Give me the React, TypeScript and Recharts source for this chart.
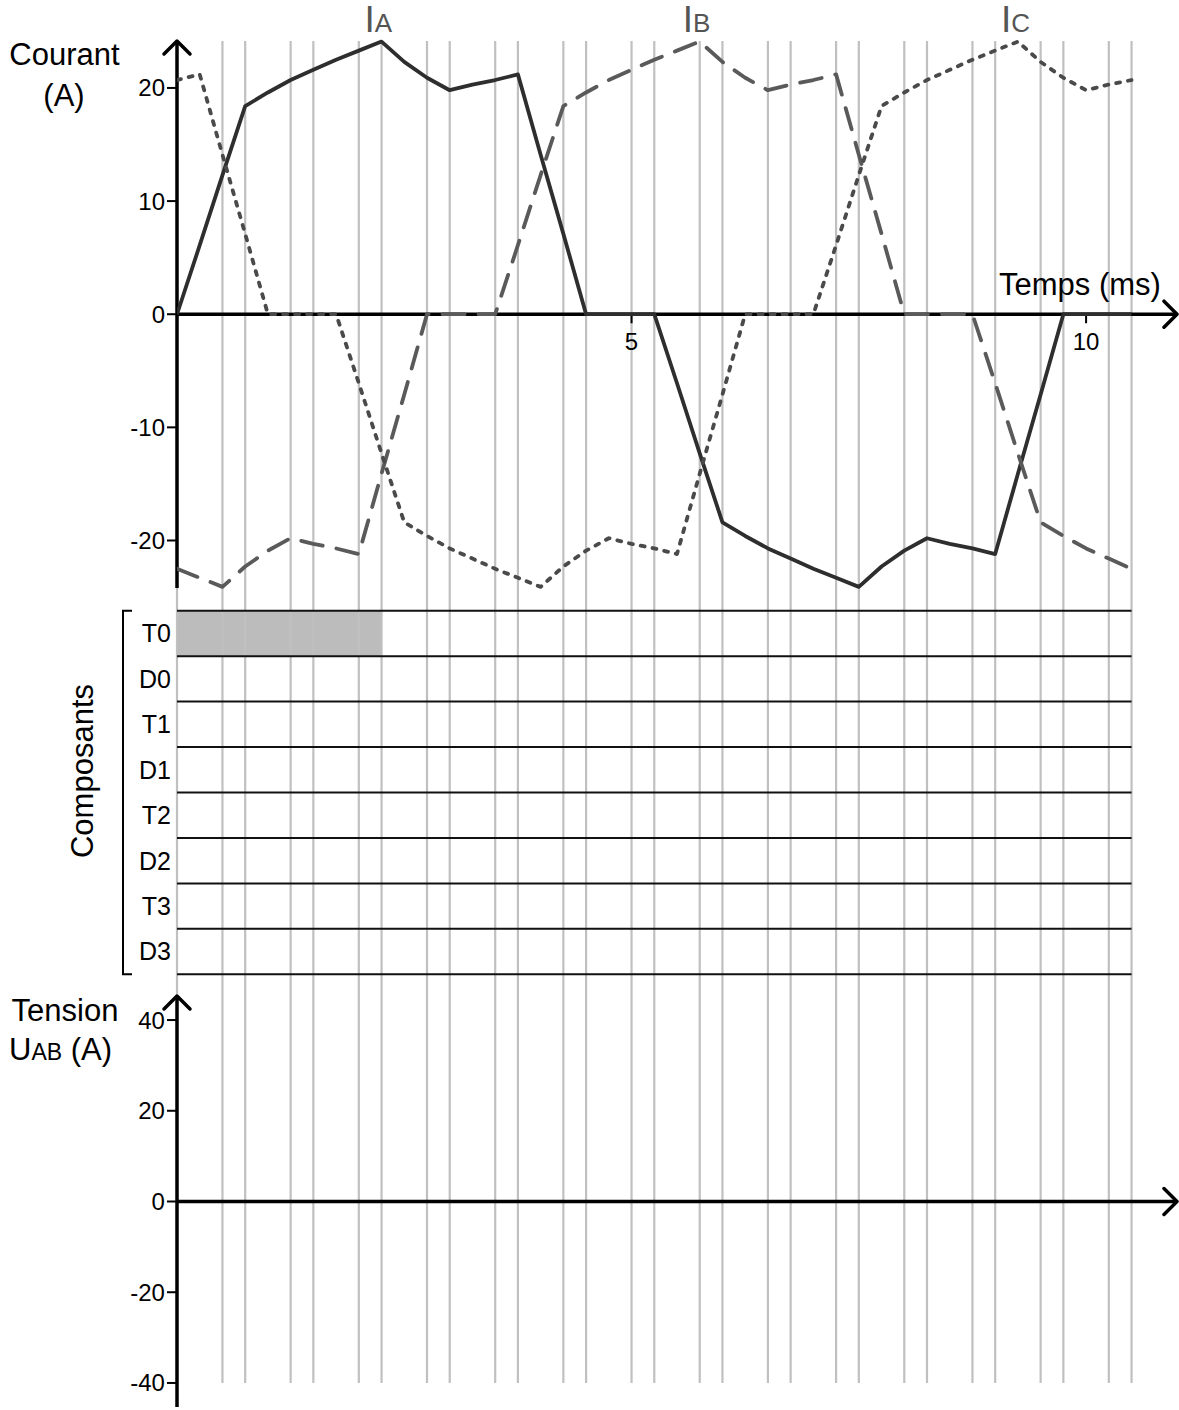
import React from "react";
import {
  ComposedChart,
  Line,
  XAxis,
  YAxis,
  ReferenceLine,
  ReferenceArea,
  ReferenceDot,
} from "recharts";

const W = 1179;
const H = 1410;
const FONT = '"Liberation Sans", Arial, sans-serif';

// time samples (ms)
const TIME = [
  0, 0.25, 0.5, 0.75, 1, 1.25, 1.5, 1.75, 2, 2.25, 2.5, 2.75, 3, 3.25, 3.5,
  3.75, 4, 4.25, 4.5, 4.75, 5, 5.25, 5.5, 5.75, 6, 6.25, 6.5, 6.75, 7, 7.25,
  7.5, 7.75, 8, 8.25, 8.5, 8.75, 9, 9.25, 9.5, 9.75, 10, 10.25, 10.5,
];

// phase currents (A)
const I_A = [
  0, 6.1, 12.3, 18.4, 19.6, 20.7, 21.6, 22.5, 23.3, 24.1, 22.3, 20.9, 19.8,
  20.3, 20.7, 21.2, 14.1, 7.1, 0, 0, 0, 0, -6.1, -12.3, -18.4, -19.6, -20.7,
  -21.6, -22.5, -23.3, -24.1, -22.3, -20.9, -19.8, -20.3, -20.7, -21.2, -14.1,
  -7.1, 0, 0, 0, 0,
];
const I_B = [
  -22.5, -23.3, -24.1, -22.3, -20.9, -19.8, -20.3, -20.7, -21.2, -14.1, -7.1,
  0, 0, 0, 0, 6.1, 12.3, 18.4, 19.6, 20.7, 21.6, 22.5, 23.3, 24.1, 22.3, 20.9,
  19.8, 20.3, 20.7, 21.2, 14.1, 7.1, 0, 0, 0, 0, -6.1, -12.3, -18.4, -19.6,
  -20.7, -21.6, -22.5,
];
const I_C = [
  20.7, 21.2, 14.1, 7.1, 0, 0, 0, 0, -6.1, -12.3, -18.4, -19.6, -20.7, -21.6,
  -22.5, -23.3, -24.1, -22.3, -20.9, -19.8, -20.3, -20.7, -21.2, -14.1, -7.1,
  0, 0, 0, 0, 6.1, 12.3, 18.4, 19.6, 20.7, 21.6, 22.5, 23.3, 24.1, 22.3, 20.9,
  19.8, 20.3, 20.7,
];

// vertical guide lines (ms)
const GRID_T = [
  0, 0.5, 0.75, 1.25, 1.5, 2, 2.25, 2.75, 3, 3.5, 3.75, 4.25, 4.5, 5, 5.25,
  5.75, 6, 6.5, 6.75, 7.25, 7.5, 8, 8.25, 8.75, 9, 9.5, 9.75, 10.25, 10.5,
];
const X_TICKS = [5, 10];
const I_TICKS = [-20, -10, 0, 10, 20];
const U_TICKS = [-40, -20, 0, 20, 40];
const COMPONENTS = ["T0", "D0", "T1", "D1", "T2", "D2", "T3", "D3"];
const CONDUCTION = [{ comp: "T0", from: 0, to: 2.25 }];

const T_END = 10.5;
const T_ARROW = 11;

const data = TIME.map((t, i) => ({ t, ia: I_A[i], ib: I_B[i], ic: I_C[i] }));

// layout (px)
const PLOT_TOP = 30;
const PLOT_BOTTOM = 1407;
const AXIS_W = 0.01;

function spanDomain(vTop: number, yTop: number, vBot: number, yBot: number): [number, number] {
  const k = (vTop - vBot) / (yBot - yTop);
  return [vBot - (PLOT_BOTTOM - yBot) * k, vTop + (yTop - PLOT_TOP) * k];
}
function convert(from: [number, number], v: number, to: [number, number]) {
  const f = (v - from[0]) / (from[1] - from[0]);
  return to[0] + f * (to[1] - to[0]);
}

const I_TOP = 24.15;
const I_BOT = -24.2;
const I_DOMAIN = spanDomain(I_TOP, 41, I_BOT, 588);
const U_TOP = 45.3;
const U_BOT = -45.3;
const U_DOMAIN = spanDomain(U_TOP, 996, U_BOT, 1407);
const ROW_Y0 = 610.7;
const ROW_H = 45.45;
const ROW_DOMAIN: [number, number] = [
  -(ROW_Y0 - PLOT_TOP) / ROW_H,
  (PLOT_BOTTOM - ROW_Y0) / ROW_H,
];
const GRID_BOTTOM_I = convert(U_DOMAIN, -40, I_DOMAIN);

const ARM = 13;
function arrowShape(dir: "up" | "right") {
  return (p: any) => {
    const { x1, y1, x2, y2 } = p;
    const tx = dir === "right" ? Math.max(x1, x2) : x1;
    const ty = dir === "up" ? Math.min(y1, y2) : y1;
    const pts =
      dir === "up"
        ? `${tx - ARM},${ty + ARM} ${tx},${ty} ${tx + ARM},${ty + ARM}`
        : `${tx - ARM},${ty - ARM} ${tx},${ty} ${tx - ARM},${ty + ARM}`;
    return (
      <g>
        <line x1={x1} y1={y1} x2={x2} y2={y2} stroke="#000" strokeWidth={3.5} />
        <polyline
          points={pts}
          fill="none"
          stroke="#000"
          strokeWidth={3.5}
          strokeLinecap="round"
          strokeLinejoin="round"
        />
      </g>
    );
  };
}

function xTickShape(label: string) {
  return (p: any) => (
    <g>
      <line x1={p.x1} y1={p.y1} x2={p.x2} y2={p.y2} stroke="#000" strokeWidth={2} />
      <text x={p.x1} y={Math.max(p.y1, p.y2) + 27} textAnchor="middle" fontSize={24} fill="#000">
        {label}
      </text>
    </g>
  );
}

const bracketShape = (p: any) => {
  const x = Math.min(p.x1, p.x2) - 54;
  const top = Math.min(p.y1, p.y2);
  const bot = Math.max(p.y1, p.y2);
  return (
    <path
      d={`M${x + 9},${top} L${x},${top} L${x},${bot} L${x + 9},${bot}`}
      fill="none"
      stroke="#000"
      strokeWidth={2}
    />
  );
};

function peakLabel(sub: string) {
  return (p: any) => (
    <text x={p.cx - 17} y={p.cy - 10} fill="#555">
      <tspan fontSize={37}>I</tspan>
      <tspan fontSize={26}>{sub}</tspan>
    </text>
  );
}

function peakTime(values: number[]) {
  let best = 0;
  values.forEach((v, i) => {
    if (v > values[best]) best = i;
  });
  return TIME[best];
}

const SERIES = [
  { key: "ia", name: "A", values: I_A, color: "#2e2e2e", dash: undefined, cap: "butt" },
  { key: "ib", name: "B", values: I_B, color: "#5a5a5a", dash: "22 14", cap: "round" },
  { key: "ic", name: "C", values: I_C, color: "#4a4a4a", dash: "4 8", cap: "round" },
];

export default function App() {
  return (
    <div style={{ position: "absolute", left: 0, top: 0, width: W, height: H, fontFamily: FONT, background: "#fff" }}>
      <ComposedChart
        width={W}
        height={H}
        data={data}
        margin={{ top: PLOT_TOP, right: W - 1177, bottom: H - PLOT_BOTTOM, left: 177 - 3 * AXIS_W }}
      >
        <XAxis xAxisId={0} type="number" dataKey="t" domain={[0, T_ARROW]} allowDataOverflow hide />
        <YAxis
          yAxisId="i"
          type="number"
          domain={I_DOMAIN}
          allowDataOverflow
          ticks={I_TICKS}
          interval={0}
          width={AXIS_W}
          axisLine={false}
          tickLine={{ stroke: "#000", strokeWidth: 2 }}
          tickSize={10}
          tickMargin={2}
          tick={{ fill: "#000", fontSize: 24 }}
        />
        <YAxis
          yAxisId="u"
          type="number"
          domain={U_DOMAIN}
          allowDataOverflow
          ticks={U_TICKS}
          interval={0}
          width={AXIS_W}
          axisLine={false}
          tickLine={{ stroke: "#000", strokeWidth: 2 }}
          tickSize={10}
          tickMargin={2}
          tick={{ fill: "#000", fontSize: 24 }}
        />
        <YAxis
          yAxisId="row"
          type="number"
          domain={ROW_DOMAIN}
          reversed
          allowDataOverflow
          ticks={COMPONENTS.map((_, i) => i + 0.5)}
          tickFormatter={(v: number) => COMPONENTS[Math.floor(v)]}
          interval={0}
          width={AXIS_W}
          axisLine={false}
          tickLine={false}
          tickSize={0}
          tickMargin={6}
          tick={{ fill: "#000", fontSize: 25 }}
        />

        {GRID_T.map((t) => (
          <ReferenceLine
            key={`g${t}`}
            yAxisId="i"
            ifOverflow="visible"
            segment={[{ x: t, y: I_TOP }, { x: t, y: GRID_BOTTOM_I }]}
            stroke="#c0c0c0"
            strokeWidth={2.2}
          />
        ))}

        {CONDUCTION.map((c) => {
          const r = COMPONENTS.indexOf(c.comp);
          return (
            <ReferenceArea
              key={c.comp}
              yAxisId="row"
              ifOverflow="visible"
              x1={c.from}
              x2={c.to}
              y1={r}
              y2={r + 1}
              fill="#bcbcbc"
              fillOpacity={1}
              stroke="none"
            />
          );
        })}

        {[...COMPONENTS, ""].map((_, k) => (
          <ReferenceLine
            key={`r${k}`}
            yAxisId="row"
            ifOverflow="visible"
            segment={[{ x: 0, y: k }, { x: T_END, y: k }]}
            stroke="#111"
            strokeWidth={2}
          />
        ))}
        <ReferenceLine
          yAxisId="row"
          ifOverflow="visible"
          segment={[{ x: 0, y: 0 }, { x: 0, y: COMPONENTS.length }]}
          shape={bracketShape}
        />

        <ReferenceLine
          yAxisId="i"
          ifOverflow="visible"
          segment={[{ x: 0, y: I_BOT }, { x: 0, y: I_TOP }]}
          shape={arrowShape("up")}
        />
        <ReferenceLine
          yAxisId="i"
          ifOverflow="visible"
          segment={[{ x: 0, y: 0 }, { x: T_ARROW, y: 0 }]}
          shape={arrowShape("right")}
        />
        <ReferenceLine
          yAxisId="u"
          ifOverflow="visible"
          segment={[{ x: 0, y: U_BOT }, { x: 0, y: U_TOP }]}
          shape={arrowShape("up")}
        />
        <ReferenceLine
          yAxisId="u"
          ifOverflow="visible"
          segment={[{ x: 0, y: 0 }, { x: T_ARROW, y: 0 }]}
          shape={arrowShape("right")}
        />
        {X_TICKS.map((t) => (
          <ReferenceLine
            key={`xt${t}`}
            yAxisId="i"
            ifOverflow="visible"
            segment={[{ x: t, y: 0 }, { x: t, y: -0.8 }]}
            shape={xTickShape(String(t))}
          />
        ))}

        {SERIES.map((s) => (
          <Line
            key={s.key}
            yAxisId="i"
            dataKey={s.key}
            type="linear"
            stroke={s.color}
            strokeWidth={3.8}
            strokeDasharray={s.dash}
            strokeLinecap={s.cap as any}
            strokeLinejoin="round"
            dot={false}
            activeDot={false}
            isAnimationActive={false}
          />
        ))}
        {SERIES.map((s) => (
          <ReferenceDot
            key={`l${s.key}`}
            yAxisId="i"
            ifOverflow="visible"
            x={peakTime(s.values)}
            y={Math.max(...s.values)}
            r={0}
            shape={peakLabel(s.name)}
          />
        ))}
      </ComposedChart>

      <svg
        width={W}
        height={H}
        style={{ position: "absolute", left: 0, top: 0, pointerEvents: "none" }}
        fontFamily={FONT}
      >
        <text x={64.5} y={65} textAnchor="middle" fontSize={31}>Courant</text>
        <text x={64} y={106} textAnchor="middle" fontSize={31}>(A)</text>
        <text x={999} y={295} fontSize={31}>Temps (ms)</text>
        <text transform="translate(93,771) rotate(-90)" textAnchor="middle" fontSize={31}>
          Composants
        </text>
        <text x={65} y={1021} textAnchor="middle" fontSize={31}>Tension</text>
        <text x={9} y={1060} fontSize={31}>
          U<tspan fontSize={23}>AB</tspan> (A)
        </text>
      </svg>
    </div>
  );
}
